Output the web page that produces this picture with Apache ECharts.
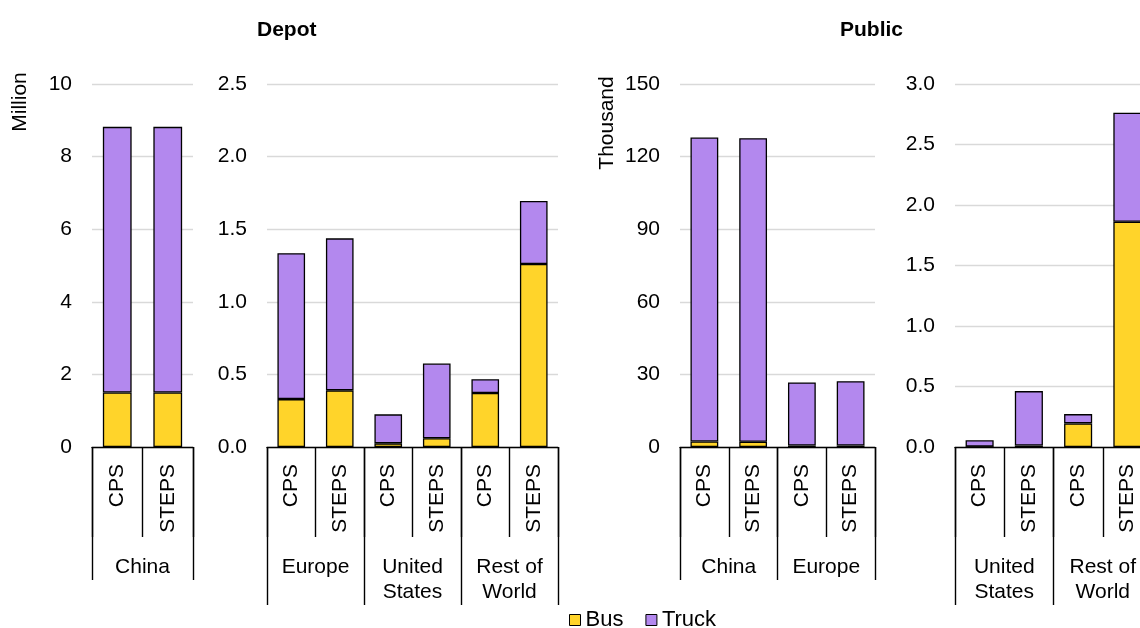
<!DOCTYPE html>
<html>
<head>
<meta charset="utf-8">
<script src="https://cdn.jsdelivr.net/npm/echarts@6/dist/echarts.min.js"></script>
<style>
html,body{margin:0;padding:0;background:#fff;}
#chart{width:1140px;height:628px;}
</style>
</head>
<body>
<div id="chart"></div>
<script>
// ---- data ----
const scenarios = ['CPS', 'STEPS'];
const depotRegionsA = ['China'];
const depotRegionsB = ['Europe', 'United States', 'Rest of World'];
const publicRegionsA = ['China', 'Europe'];
const publicRegionsB = ['United States', 'Rest of World'];

// Depot (million)
const depotChinaBus = [1.50, 1.50];
const depotChinaTruck = [7.32, 7.32];
const depotOtherBus = [0.33, 0.39, 0.025, 0.06, 0.372, 1.26];
const depotOtherTruck = [1.005, 1.047, 0.20, 0.515, 0.095, 0.434];

// Public (thousand)
const publicMainBus = [2.3, 2.2, 0.6, 0.6];
const publicMainTruck = [125.6, 125.4, 26.1, 26.6];
const publicOtherBus = [0.003, 0.012, 0.195, 1.861];
const publicOtherTruck = [0.053, 0.450, 0.077, 0.902];

const seriesNames = ['Bus', 'Truck'];
const titles = ['Depot', 'Public'];
const unitNames = ['Million', 'Thousand'];

// ---- styling ----
const FONT = "'Liberation Sans', Arial, sans-serif";
const FS = 21;
const BUS_COLOR = '#FFD42A';
const TRUCK_COLOR = '#B388EE';
const TXT = '#000';

function scenCats(regions) {
  const out = [];
  regions.forEach(() => scenarios.forEach(s => out.push(s)));
  return out;
}
function wrapRegion(r) {
  if (r === 'United States') return 'United\nStates';
  if (r === 'Rest of World') return 'Rest of\nWorld';
  return r;
}

const grids = [
  {left: 92, width: 101, top: 84, height: 363},
  {left: 267, width: 291, top: 84, height: 363},
  {left: 680, width: 195, top: 84, height: 363},
  {left: 955, width: 197, top: 84, height: 363}
].map(g => Object.assign({containLabel: false, outerBoundsMode: 'none'}, g));

const panels = [
  {regions: depotRegionsA, bus: depotChinaBus, truck: depotChinaTruck, max: 10, interval: 2, dec: 0, groupTick: 133},
  {regions: depotRegionsB, bus: depotOtherBus, truck: depotOtherTruck, max: 2.5, interval: 0.5, dec: 1, groupTick: 158},
  {regions: publicRegionsA, bus: publicMainBus, truck: publicMainTruck, max: 150, interval: 30, dec: 0, groupTick: 133},
  {regions: publicRegionsB, bus: publicOtherBus, truck: publicOtherTruck, max: 3, interval: 0.5, dec: 1, groupTick: 158}
];

const xAxis = [], yAxis = [], series = [];
panels.forEach((p, i) => {
  // scenario level axis
  xAxis.push({
    type: 'category', gridIndex: i, position: 'bottom',
    data: scenCats(p.regions),
    axisLine: {show: true, lineStyle: {color: '#000', width: 1.4}},
    axisTick: {show: true, length: 90, lineStyle: {color: '#000', width: 1.4}},
    axisLabel: {interval: 0, rotate: 90, margin: 17, color: TXT, fontSize: FS, fontFamily: FONT}
  });
  // region level axis
  xAxis.push({
    type: 'category', gridIndex: i, position: 'bottom',
    data: p.regions.map(wrapRegion),
    axisLine: {show: false},
    axisTick: {show: true, length: p.groupTick, lineStyle: {color: '#000', width: 1.4}},
    axisLabel: {interval: 0, margin: 108, color: TXT, fontSize: FS, lineHeight: 25, fontFamily: FONT}
  });
  yAxis.push({
    type: 'value', gridIndex: i, min: 0, max: p.max, interval: p.interval,
    axisLine: {show: false}, axisTick: {show: false},
    splitLine: {lineStyle: {color: '#d9d9d9', width: 1.3}},
    axisLabel: {margin: 20, color: TXT, fontSize: FS, fontFamily: FONT,
      formatter: v => v.toFixed(p.dec)}
  });
  const common = {type: 'bar', xAxisIndex: 2 * i, yAxisIndex: i, stack: 'stack' + i, barWidth: '57%'};
  series.push(Object.assign({}, common, {
    name: seriesNames[0], data: p.bus,
    itemStyle: {color: BUS_COLOR, borderColor: '#000', borderWidth: 1.3}
  }));
  series.push(Object.assign({}, common, {
    name: seriesNames[1], data: p.truck,
    itemStyle: {color: TRUCK_COLOR, borderColor: '#000', borderWidth: 1.3}
  }));
});

const chart = echarts.init(document.getElementById('chart'), null, {renderer: 'canvas'});
chart.setOption({
  animation: false,
  backgroundColor: '#fff',
  textStyle: {fontFamily: FONT},
  title: [
    {text: titles[0], left: 257, top: 20, padding: 0, textStyle: {fontSize: FS, fontWeight: 'bold', color: '#000', fontFamily: FONT}},
    {text: titles[1], left: 840, top: 20, padding: 0, textStyle: {fontSize: FS, fontWeight: 'bold', color: '#000', fontFamily: FONT}}
  ],
  legend: {
    data: seriesNames, left: 569, top: 609, padding: 0,
    itemWidth: 11, itemHeight: 11, itemGap: 22, icon: 'rect',
    itemStyle: {borderColor: '#000', borderWidth: 1},
    textStyle: {fontSize: 22, color: TXT, fontFamily: FONT}
  },
  graphic: [
    {type: 'text', x: 20, y: 102, rotation: Math.PI / 2,
      style: {text: unitNames[0], fontSize: FS, fontFamily: FONT, fill: TXT, align: 'center', verticalAlign: 'middle'}},
    {type: 'text', x: 607, y: 123, rotation: Math.PI / 2,
      style: {text: unitNames[1], fontSize: FS, fontFamily: FONT, fill: TXT, align: 'center', verticalAlign: 'middle'}}
  ],
  grid: grids,
  xAxis: xAxis,
  yAxis: yAxis,
  series: series
});
</script>
</body>
</html>
